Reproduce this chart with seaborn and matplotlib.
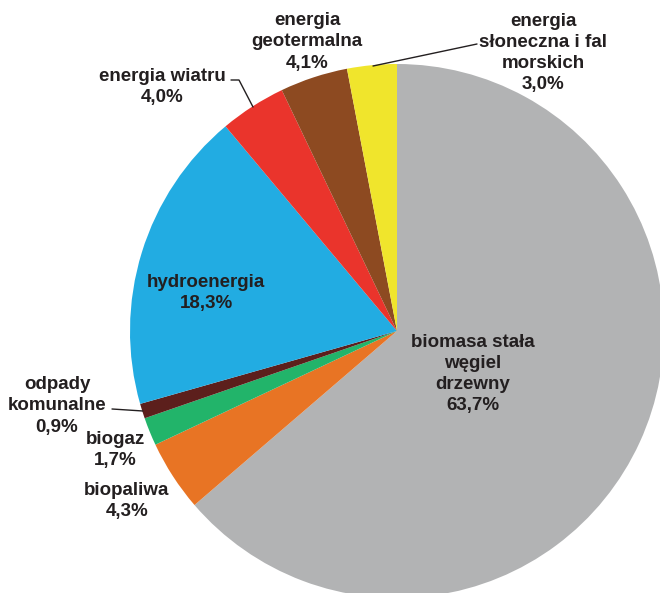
import matplotlib
matplotlib.use("Agg")
import matplotlib.pyplot as plt
import seaborn as sns

sns.set_theme(style="white")
plt.rcParams['font.family'] = ['Liberation Sans', 'DejaVu Sans']

# data
names = ['biomasa stała\nwęgiel\ndrzewny', 'biopaliwa', 'biogaz', 'odpady\nkomunalne',
         'hydroenergia', 'energia wiatru', 'energia\ngeotermalna',
         'energia\nsłoneczna i fal\nmorskich']
shares = [63.7, 4.3, 1.7, 0.9, 18.3, 4.0, 4.1, 3.0]
colors = ['#b2b3b4', '#e87424', '#22b46a', '#5c1f1c', '#22ace2', '#ea342c', '#8d4a21', '#f0e52c']

# label centres (pixels in the 660x593 image) and optional leader lines
label_pos = [(473, 374), (127, 501), (115, 450), (57, 406), (206, 293), (162, 87), (307, 42), (543, 53)]
leaders = {3: [(112, 409), (143, 411)],
           5: [(231, 80), (239, 80), (253, 107)],
           7: [(477, 44), (373, 66)]}

W, H = 660, 593
CX, CY, R = 397, 331, 267


def to_data(px, py):
    return (px - CX) / R, (CY - py) / R


fig = plt.figure(figsize=(W / 100, H / 100), dpi=100)
ax = fig.add_axes([0, 0, 1, 1])
ax.pie(shares, colors=colors, startangle=90, counterclock=False, radius=1,
       wedgeprops=dict(linewidth=0))
ax.set_aspect('auto')
ax.set_xlim(-CX / R, (W - CX) / R)
ax.set_ylim(-(H - CY) / R, CY / R)
ax.axis('off')

for i, (name, val) in enumerate(zip(names, shares)):
    txt = name + '\n' + f'{val:.1f}'.replace('.', ',') + '%'
    x, y = to_data(*label_pos[i])
    ax.text(x, y, txt, ha='center', va='center', fontsize=13.5, fontweight='bold',
            color='#231f20', linespacing=1.32)

for i, pts in leaders.items():
    xs, ys = zip(*[to_data(*p) for p in pts])
    ax.plot(xs, ys, color='#231f20', linewidth=1.0)

fig.savefig('out.png', dpi=100)
